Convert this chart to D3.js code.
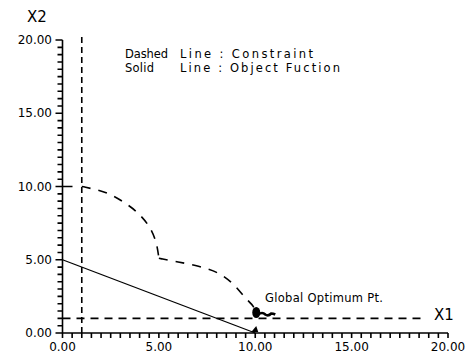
<!DOCTYPE html>
<html>
<head>
<meta charset="utf-8">
<script src="https://cdn.jsdelivr.net/npm/d3@7"></script>
<style>
  html, body { margin: 0; padding: 0; background: #fff; }
  svg { display: block; }
  text { font-family: "DejaVu Sans", sans-serif; fill: #000; }
</style>
</head>
<body>
<svg id="chart" width="471" height="357"></svg>
<script>
// ---- data ----
const xTickValues = [0, 5, 10, 15, 20];
const xTickLabels = ["0.00", "5.00", "10.00", "15.00", "20.00"];
const yTickValues = [0, 5, 10, 15, 20];
const yTickLabels = ["0.00", "5.00", "10.00", "15.00", "20.00"];
const minorStep = 0.5;

// constraint boundary (dashed)
const arc1X = [1.0, 1.2, 2.3, 3.15, 3.9, 4.5, 4.85, 5.0];
const arc1Y = [10.0, 9.95, 9.55, 8.95, 8.2, 7.25, 6.2, 5.1];
const arc2X = [5.0, 5.2, 6.0, 7.05, 8.05, 8.8, 9.45, 9.9, 10.0];
const arc2Y = [5.1, 5.05, 4.85, 4.55, 4.1, 3.4, 2.45, 1.8, 1.45];
const vConstraintX = [1, 1];
const vConstraintY = [0, 20.2];
const hConstraintX = [0, 18.6];
const hConstraintY = [1, 1];

// objective function (solid)
const objX = [0, 10];
const objY = [5, 0];

// global optimum point
const optX = [10];
const optY = [1.4];

const legendLines = [["Dashed", "Line : Constraint"], ["Solid", "Line : Object Fuction"]];

// ---- chart ----
const svg = d3.select("#chart");
const x = d3.scaleLinear().domain([0, 20]).range([62.5, 448]);
const y = d3.scaleLinear().domain([0, 20]).range([333, 40]);

const zip = (xs, ys) => xs.map((v, i) => [v, ys[i]]);
const line = d3.line().x(d => x(d[0])).y(d => y(d[1]));

// axes + ticks in one path
const minor = d3.range(0, 20 + 1e-6, minorStep);
const x0 = x(0), y0 = y(0);
const axisD = `M${x(20)},${y0}H${x0}V${y(20)}`
  + minor.map(d => `M${x(d)},${y0}v5`).join("")
  + minor.map(d => `M${x0},${y(d)}h-5`).join("")
  + yTickValues.map(d => `M${x0 - 7},${y(d)}H${d === 10 ? x0 + 10 : x0}`).join("");
svg.append("path").attr("d", axisD)
  .attr("fill", "none").attr("stroke", "#000").attr("stroke-width", 1.6);

// tick labels
svg.append("g").selectAll("text").data(xTickValues).join("text")
  .attr("x", d => x(d)).attr("y", 351).attr("text-anchor", "middle")
  .style("font-size", "12px").text((d, i) => xTickLabels[i]);
svg.append("g").selectAll("text").data(yTickValues).join("text")
  .attr("x", 52).attr("y", d => y(d) + 4).attr("text-anchor", "end")
  .style("font-size", "12px").text((d, i) => yTickLabels[i]);

// axis titles
svg.append("text").attr("x", 27).attr("y", 22).style("font-size", "15px").text("X2");
svg.append("text").attr("x", 434).attr("y", 320).style("font-size", "15px").text("X1");

// constraint lines (dashed)
const dashStyle = sel => sel.attr("fill", "none").attr("stroke", "#000").attr("stroke-width", 1.6);
svg.append("path").datum(zip(vConstraintX, vConstraintY)).attr("d", line).call(dashStyle).attr("stroke-dasharray", "6,4");
svg.append("path").datum(zip(hConstraintX, hConstraintY)).attr("d", line).call(dashStyle).attr("stroke-dasharray", "8,6");
const curve = d3.line().x(d => x(d[0])).y(d => y(d[1])).curve(d3.curveCatmullRom);
svg.append("path").datum(zip(arc1X, arc1Y)).attr("d", curve).call(dashStyle).attr("stroke-dasharray", "9,8");
svg.append("path").datum(zip(arc2X, arc2Y)).attr("d", curve).call(dashStyle).attr("stroke-dasharray", "9,8");

// objective function (solid)
svg.append("path").datum(zip(objX, objY)).attr("d", line)
  .attr("fill", "none").attr("stroke", "#000").attr("stroke-width", 1.3);

// optimum point marker
const opt = zip(optX, optY)[0];
svg.append("ellipse").attr("cx", x(opt[0]) + 1).attr("cy", y(opt[1])).attr("rx", 4).attr("ry", 5.5).attr("fill", "#000");
svg.append("path")
  .attr("d", `M${x(opt[0]) + 3},${y(opt[1]) + 2} q4,-3 7,0 q3,2 6,-1 q2,0 4,1`)
  .attr("fill", "none").attr("stroke", "#000").attr("stroke-width", 2.6);
svg.append("path")
  .attr("d", `M${x(10) - 4},${y(0) - 1} L${x(10) + 1},${y(0) - 7} L${x(10) + 3},${y(0) - 1} Z`)
  .attr("fill", "#000");

svg.append("text").attr("x", 265).attr("y", 302).style("font-size", "11.5px")
  .attr("textLength", 118).attr("lengthAdjust", "spacing").text("Global Optimum Pt.");

// legend text
const leg = svg.append("g");
legendLines.forEach((parts, i) => {
  const t = leg.append("text").attr("y", 58 + i * 14).style("font-size", "11.5px");
  t.append("tspan").attr("x", 125).attr("textLength", i === 0 ? 43 : 29).attr("lengthAdjust", "spacing").text(parts[0]);
  t.append("tspan").attr("x", 180).attr("textLength", i === 0 ? 133 : 160).attr("lengthAdjust", "spacing").text(parts[1]);
});
</script>
</body>
</html>
